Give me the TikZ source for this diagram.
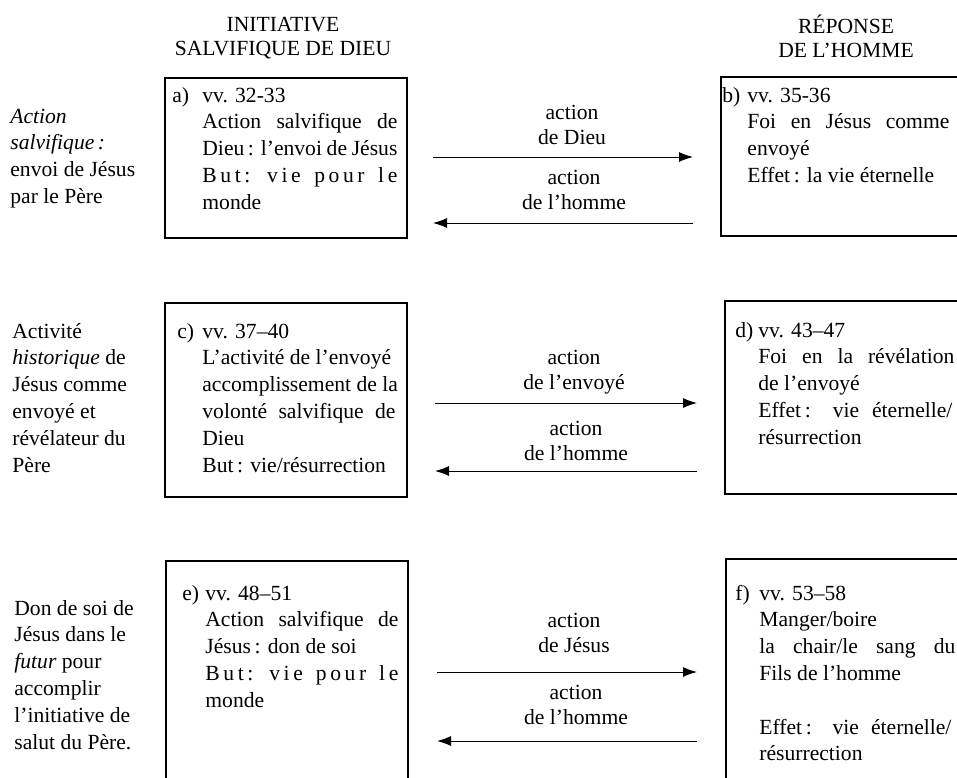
\documentclass[tikz,border=0pt]{standalone}
\usepackage{fontspec}
\setmainfont{Liberation Serif}
\usepackage{tikz}
\usetikzlibrary{arrows.meta}

\begin{document}
\begin{tikzpicture}[x=0.5pt, y=-0.5pt,
  box/.style={draw, line width=0.9pt, anchor=north west, inner sep=0pt},
  txt/.style={anchor=north west, inner sep=0pt, align=left,
    font=\fontsize{10.8}{13.4}\selectfont},
  head/.style={anchor=north, inner sep=0pt, align=center,
    font=\fontsize{10.8}{11.8}\selectfont},
  lab/.style={anchor=north, inner sep=0pt, align=center,
    font=\fontsize{10.8}{12.6}\selectfont},
  arr/.style={-{Latex[length=7pt, width=5pt]}, line width=0.5pt}]
  \useasboundingbox (0,0) rectangle (957,777);
  \clip (0,0) rectangle (957,777);

  % Column heads
  \node[head] (h1) at (283,15) {\strut INITIATIVE\\SALVIFIQUE DE DIEU};
  \node[head] (h2) at (846,15) {\strut RÉPONSE\\DE L’HOMME};

  % Boxes
  \node[box, minimum width=121pt, minimum height=80pt] (a) at (164,77) {};
  \node[box, minimum width=130pt, minimum height=79.5pt] (b) at (720,76) {};
  \node[box, minimum width=121pt, minimum height=97pt] (c) at (164,302) {};
  \node[box, minimum width=128pt, minimum height=96.5pt] (d) at (724,300) {};
  \node[box, minimum width=121pt, minimum height=120pt] (e) at (165,560) {};
  \node[box, minimum width=128pt, minimum height=121pt] (f) at (725,558) {};

  % Row 1
  \node[txt] (l1) at (10,104) {\strut\textit{Action}\\\textit{salvifique\,:}\\envoi de Jésus\\par le Père};
  \node[txt] (ta) at (172,83) {\strut a)};
  \node[txt] (xa) at (202,83) {\strut vv. 32-33\\
    \makebox[97.5pt][s]{Action salvifique de}\\
    \makebox[97.5pt][s]{Dieu\,: l’envoi de Jésus}\\
    \makebox[97.5pt][s]{B\,u\,t\,: \ v\,i\,e \ p\,o\,u\,r \ l\,e}\\
    monde};
  \node[txt] (tb) at (722,83) {\strut b)};
  \node[txt] (xb) at (747,83) {\strut vv. 35-36\\
    \makebox[101pt][s]{Foi en Jésus comme}\\
    envoyé\\
    Effet\,: la vie éternelle};

  \coordinate (a1) at (433,157);
  \coordinate (b1) at (693,157);
  \coordinate (a2) at (433,223);
  \coordinate (b2) at (693,223);
  \draw[arr] (a1) -- (b1);
  \draw[arr] (b2) -- (a2);
  \node[lab] (ab1) at (572,101) {\strut action\\de Dieu};
  \node[lab] (ab2) at (574,166) {\strut action\\de l’homme};

  % Row 2
  \node[txt] (l2) at (12,319) {\strut Activité\\\textit{historique} de\\Jésus comme\\envoyé et\\révélateur du\\Père};
  \node[txt] (tc) at (177,319) {\strut c)};
  \node[txt] (xc) at (202,319) {\strut vv. 37–40\\
    L’activité de l’envoyé\\
    accomplissement de la\\
    \makebox[96.5pt][s]{volonté salvifique de}\\
    Dieu\\
    But\,: vie/résurrection};
  \node[txt] (td) at (735,318) {\strut d)};
  \node[txt] (xd) at (758,318) {\strut vv. 43–47\\
    \makebox[98pt][s]{Foi en la révélation}\\
    de l’envoyé\\
    \makebox[97pt][s]{Effet\,: vie éternelle/}\\
    résurrection};

  \coordinate (c1) at (435,403);
  \coordinate (d1) at (697,403);
  \coordinate (c2) at (435,471);
  \coordinate (d2) at (697,471);
  \draw[arr] (c1) -- (d1);
  \draw[arr] (d2) -- (c2);
  \node[lab] (cd1) at (574,346) {\strut action\\de l’envoyé};
  \node[lab] (cd2) at (576,417) {\strut action\\de l’homme};

  % Row 3
  \node[txt] (l3) at (14,596) {\strut Don de soi de\\Jésus dans le\\\textit{futur} pour\\accomplir\\l’initiative de\\salut du Père.};
  \node[txt] (te) at (182,581) {\strut e)};
  \node[txt] (xe) at (205,581) {\strut vv. 48–51\\
    \makebox[96.5pt][s]{Action salvifique de}\\
    Jésus\,: don de soi\\
    \makebox[96.5pt][s]{B\,u\,t\,: \ v\,i\,e \ p\,o\,u\,r \ l\,e}\\
    monde};
  \node[txt] (tf) at (735,581) {\strut f)};
  \node[txt] (xf) at (759,581) {\strut vv. 53–58\\
    Manger/boire\\
    \makebox[98pt][s]{la chair/le sang du}\\
    Fils de l’homme\\[13.4pt]
    \makebox[96pt][s]{Effet\,: vie éternelle/}\\
    résurrection};

  \coordinate (e1) at (437,672);
  \coordinate (f1) at (697,672);
  \coordinate (e2) at (437,741);
  \coordinate (f2) at (697,741);
  \draw[arr] (e1) -- (f1);
  \draw[arr] (f2) -- (e2);
  \node[lab] (ef1) at (574,609) {\strut action\\de Jésus};
  \node[lab] (ef2) at (576,681) {\strut action\\de l’homme};
\end{tikzpicture}
\end{document}
